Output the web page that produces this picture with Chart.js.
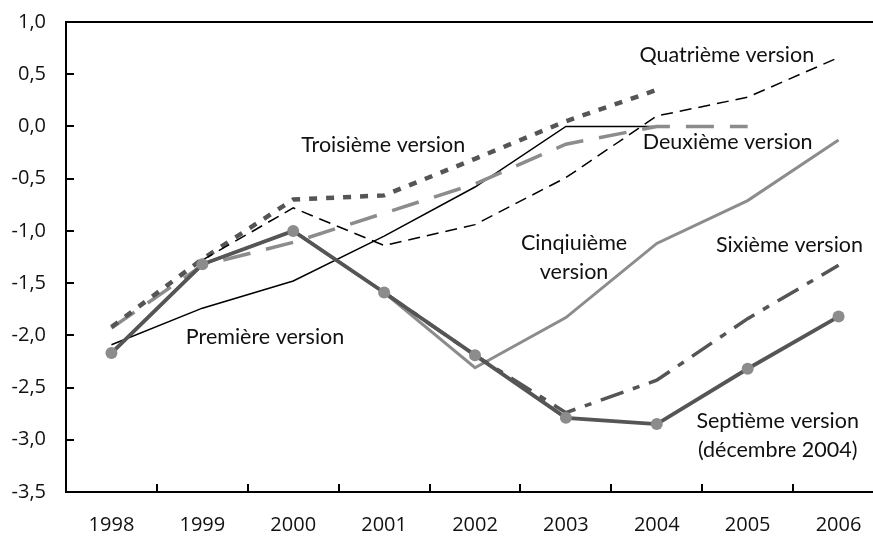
<!DOCTYPE html>
<html>
<head>
<meta charset="utf-8">
<script src="https://cdn.jsdelivr.net/npm/chart.js@4.4.1/dist/chart.umd.min.js"></script>
<style>
  html, body { margin: 0; padding: 0; background: #fff; overflow: hidden; }
  #wrap { position: relative; width: 900px; height: 536px; }
</style>
</head>
<body>
<div id="wrap"><canvas id="lineChart"></canvas></div>
<script>
// years on the x axis
var years = ['1998', '1999', '2000', '2001', '2002', '2003', '2004', '2005', '2006'];

// forecasts, one array per version (null = no point)
var premiere  = [-2.09, -1.74, -1.48, -1.05, -0.58, 0.00, 0.00, null, null];
var deuxieme  = [-1.93, -1.33, -1.11, -0.83, -0.55, -0.17, 0.00, 0.00, null];
var troisieme = [-1.92, -1.27, -0.70, -0.66, -0.31, 0.05, 0.35, null, null];
var quatrieme = [null, -1.28, -0.78, -1.14, -0.94, -0.49, 0.10, 0.28, 0.66];
var cinquieme = [-2.17, -1.32, -1.00, -1.59, -2.31, -1.83, -1.12, -0.71, -0.13];
var sixieme   = [null, null, null, -1.59, -2.19, -2.74, -2.43, -1.84, -1.33];
var septieme  = [-2.17, -1.32, -1.00, -1.59, -2.19, -2.79, -2.85, -2.32, -1.82];

var yTicks = [1.0, 0.5, 0.0, -0.5, -1.0, -1.5, -2.0, -2.5, -3.0, -3.5];

// text put inside the plot next to each line: [lines, x index, y value]
var notes = [
  [['Quatrième version'], 6.77, 0.68],
  [['Troisième version'], 2.99, -0.18],
  [['Deuxième version'], 6.78, -0.15],
  [['Cinqiuième', 'version'], 5.09, -1.12],
  [['Sixième version'], 7.46, -1.14],
  [['Première version'], 1.69, -2.02],
  [['Septième version', '(décembre 2004)'], 7.33, -2.82]
];

var dark = '#555555';
var grey = '#8c8c8c';

var frame = {
  id: 'frame',
  afterDraw: function(chart) {
    var ctx = chart.ctx, a = chart.chartArea;
    var x = chart.scales.x, y = chart.scales.y;
    ctx.save();
    ctx.strokeStyle = '#000';
    ctx.lineWidth = 2;
    ctx.beginPath();
    // top border
    ctx.moveTo(a.left, a.top);
    ctx.lineTo(chart.width, a.top);
    // y ticks, pointing inward
    yTicks.forEach(function(v) {
      var py = Math.round(y.getPixelForValue(v));
      ctx.moveTo(a.left, py);
      ctx.lineTo(a.left + 8, py);
    });
    // x ticks between the years
    for (var i = 1; i <= years.length; i++) {
      var px = Math.round(x.getPixelForValue(i - 0.5));
      ctx.moveTo(px, a.bottom);
      ctx.lineTo(px, a.bottom - 8);
    }
    ctx.stroke();

    ctx.fillStyle = '#111';
    ctx.font = '21.5px Lato';
    ctx.textAlign = 'center';
    ctx.textBaseline = 'middle';
    notes.forEach(function(n) {
      var px = x.getPixelForValue(n[1]);
      var py = y.getPixelForValue(n[2]);
      n[0].forEach(function(t, k) {
        ctx.fillText(t, px, py + k * 29);
      });
    });
    ctx.restore();
  }
};

var ds = function(label, data, color, width, dash, order) {
  return {
    label: label, data: data, borderColor: color, borderWidth: width,
    borderDash: dash, pointRadius: 0, tension: 0, spanGaps: false,
    fill: false, order: order
  };
};

var sept = ds('Septième version', septieme, dark, 3.8, [], 0);
sept.pointRadius = 6;
sept.pointBackgroundColor = grey;
sept.pointBorderWidth = 0;

new Chart(document.getElementById('lineChart'), {
  type: 'line',
  data: {
    labels: years,
    datasets: [
      sept,
      ds('Sixième version', sixieme, dark, 3.5, [24, 10, 7, 10], 1),
      ds('Cinquième version', cinquieme, grey, 3, [], 2),
      ds('Quatrième version', quatrieme, '#000', 1.5, [12, 7], 3),
      ds('Troisième version', troisieme, dark, 4.5, [8, 9], 4),
      ds('Deuxième version', deuxieme, grey, 3.5, [28, 16], 5),
      ds('Première version', premiere, '#000', 1.5, [], 6)
    ]
  },
  options: {
    responsive: true,
    maintainAspectRatio: false,
    animation: false,
    events: [],
    layout: { padding: { top: 22, right: 16, bottom: 0, left: 0 } },
    plugins: { legend: { display: false }, tooltip: { enabled: false } },
    scales: {
      x: {
        offset: true,
        grid: { display: false, drawTicks: false },
        border: { display: true, color: '#000', width: 2 },
        ticks: { color: '#111', font: { family: 'Open Sans', size: 20 }, padding: 21, maxRotation: 0 },
        afterFit: function(s) { s.height = 44; }
      },
      y: {
        min: -3.5,
        max: 1.0,
        grid: { display: false, drawTicks: false },
        border: { display: true, color: '#000', width: 2 },
        afterBuildTicks: function(s) { s.ticks = yTicks.map(function(v) { return { value: v }; }); },
        ticks: {
          color: '#111', font: { family: 'Open Sans', size: 20 }, padding: 20,
          callback: function(v) { return v.toFixed(1).replace('.', ','); }
        },
        afterFit: function(s) { s.width = 66; s.paddingTop = 0; s.paddingBottom = 0; }
      }
    }
  },
  plugins: [frame]
});
</script>
</body>
</html>
